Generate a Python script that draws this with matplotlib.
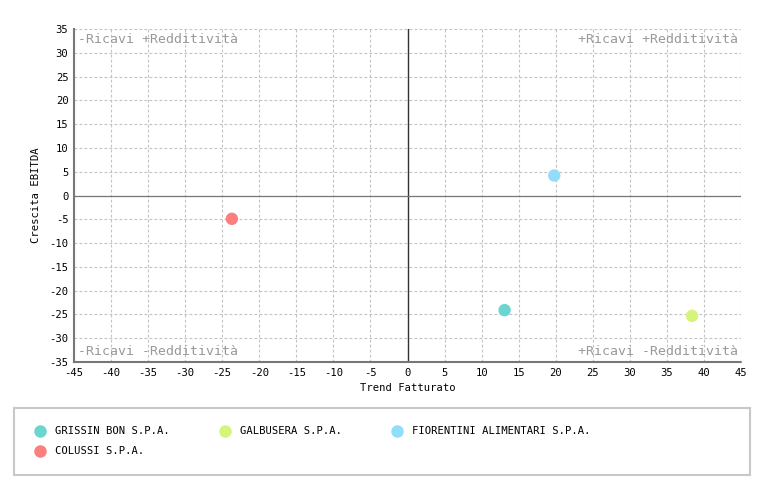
import matplotlib
matplotlib.use('Agg')
import matplotlib.pyplot as plt
from matplotlib.lines import Line2D
from matplotlib.patches import Rectangle

plt.rcParams['font.family'] = 'DejaVu Sans Mono'
plt.rcParams['axes.unicode_minus'] = False

names = ['GRISSIN BON S.P.A.', 'GALBUSERA S.P.A.', 'FIORENTINI ALIMENTARI S.P.A.', 'COLUSSI S.P.A.']
trend_fatturato = [13.1, 38.4, 19.8, -23.7]
crescita_ebitda = [-24.1, -25.3, 4.2, -4.9]
colors = ['#6bd6cf', '#d5f57a', '#93dcfa', '#fb7f7f']

x_ticks = list(range(-45, 50, 5))
y_ticks = list(range(-35, 40, 5))

fig = plt.figure(figsize=(7.64, 4.8), dpi=100)
ax = fig.add_axes([74/764, 1-362/480, 667/764, 333/480])

ax.set_xlim(-45, 45)
ax.set_ylim(-35, 35)
ax.set_xticks(x_ticks)
ax.set_yticks(y_ticks)
ax.tick_params(length=0, labelsize=7.6, pad=4)
ax.grid(True, color='#c2c2c2', linestyle=(0, (2.5, 2)), linewidth=0.8)
ax.set_axisbelow(True)

for s in ['top', 'right']:
    ax.spines[s].set_visible(False)
for s in ['left', 'bottom']:
    ax.spines[s].set_color('#777777')
    ax.spines[s].set_linestyle((0, (2, 1)))
    ax.spines[s].set_linewidth(1.5)

ax.axvline(0, color='#333333', linewidth=1.0, zorder=1)
ax.axhline(0, color='#777777', linewidth=0.9, zorder=1)

for x, y, c in zip(trend_fatturato, crescita_ebitda, colors):
    ax.scatter(x, y, s=80, color=c, zorder=3, edgecolors='none')

qcol = '#999999'
ax.text(-44.4, 34.2, '-Ricavi +Redditività', color=qcol, fontsize=9.5, ha='left', va='top')
ax.text(44.6, 34.2, '+Ricavi +Redditività', color=qcol, fontsize=9.5, ha='right', va='top')
ax.text(-44.4, -34.2, '-Ricavi -Redditività', color=qcol, fontsize=9.5, ha='left', va='bottom')
ax.text(44.6, -34.2, '+Ricavi -Redditività', color=qcol, fontsize=9.5, ha='right', va='bottom')

ax.set_xlabel('Trend Fatturato', fontsize=7.6, labelpad=4)
ax.set_ylabel('Crescita EBITDA', fontsize=7.6, labelpad=6)

# legend box
fig.patches.append(Rectangle((14/764, 1-475/480), 736/764, 67/480, transform=fig.transFigure,
                             facecolor='white', edgecolor='#c8c8c8', linewidth=1.5))
leg_pos = [(40, 431), (225, 431), (397, 431), (40, 451)]
for (px, py), n, c in zip(leg_pos, names, colors):
    fig.lines.append(Line2D([px/764], [1-py/480], transform=fig.transFigure, marker='o',
                            markersize=9, color=c, markeredgecolor='none', linestyle='none'))
    fig.text((px+15)/764, 1-py/480, n, fontsize=7.6, va='center', ha='left')

fig.savefig('out.png', dpi=100)
